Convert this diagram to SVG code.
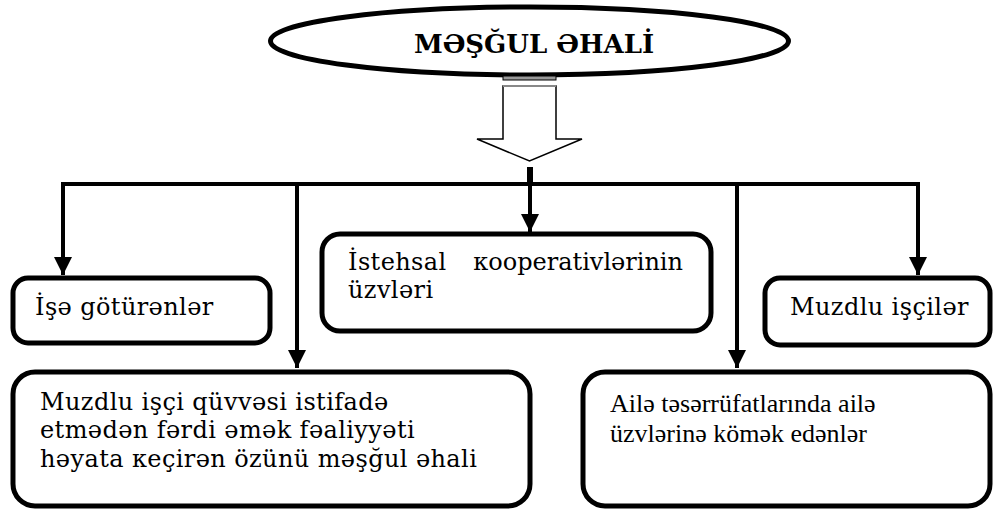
<svg xmlns="http://www.w3.org/2000/svg" width="993" height="511" viewBox="0 0 993 511">
<style>
.box{fill:#fff;stroke:#000;stroke-width:5}
.ln{fill:none;stroke:#000;stroke-width:4}
</style>
<defs>
<marker id="ah" viewBox="0 0 10 10" refX="10" refY="5" markerWidth="4.6" markerHeight="4.6" markerUnits="strokeWidth" orient="auto">
<path d="M0,0 L10,5 L0,10 Z" fill="#000"/>
</marker>
</defs>
<rect width="993" height="511" fill="#fff"/>
<g id="title">
<ellipse cx="529.5" cy="41" rx="259" ry="34" fill="#fff" stroke="#000" stroke-width="5"/>
<text x="534" y="53" text-anchor="middle" font-family="'DejaVu Serif', 'Liberation Serif', serif" font-size="26" font-weight="bold">MƏŞĞUL ƏHALİ</text>
</g>
<g id="connectors">
<rect x="503" y="76" width="53" height="4" fill="#999" stroke="#000" stroke-width="1"/>
<polygon points="503,86 556,86 556,139 582,139 529.5,161 477,139 503,139" fill="#fff" stroke="#000" stroke-width="1.5"/>
<line x1="503" y1="86" x2="556" y2="86" stroke="#888" stroke-width="2"/>
<line x1="530" y1="167" x2="530" y2="184" stroke="#000" stroke-width="6"/>
<polyline class="ln" points="63,275 63,184 918,184 918,275" marker-end="url(#ah)"/>
<line class="ln" x1="63" y1="184" x2="63" y2="275" marker-end="url(#ah)"/>
<line class="ln" x1="297" y1="184" x2="297" y2="368" marker-end="url(#ah)"/>
<line class="ln" x1="530" y1="184" x2="530" y2="232" marker-end="url(#ah)"/>
<line class="ln" x1="737" y1="184" x2="737" y2="368" marker-end="url(#ah)"/>
</g>
<g id="n1">
<rect class="box" x="13" y="278" width="257" height="65" rx="15"/>
<text x="35" y="315" font-family="'DejaVu Serif', 'Liberation Serif', serif" font-size="24" letter-spacing="0.4">İşə götürənlər</text>
</g>
<g id="n2">
<rect class="box" x="322" y="234" width="389" height="97" rx="18"/>
<text x="348" y="270" font-family="'DejaVu Serif', 'Liberation Serif', serif" font-size="24" letter-spacing="0.4">İstehsal</text>
<text x="683" y="270" text-anchor="end" font-family="'DejaVu Serif', 'Liberation Serif', serif" font-size="24">кooperativlərinin</text>
<text x="348" y="298" font-family="'DejaVu Serif', 'Liberation Serif', serif" font-size="24" letter-spacing="0.4">üzvləri</text>
</g>
<g id="n3">
<rect class="box" x="765" y="278" width="225" height="67" rx="15"/>
<text x="790" y="315" font-family="'DejaVu Serif', 'Liberation Serif', serif" font-size="24" letter-spacing="0.4">Muzdlu işçilər</text>
</g>
<g id="n4">
<rect class="box" x="13" y="372" width="517" height="134" rx="22"/>
<text x="40" y="410" font-family="'DejaVu Serif', 'Liberation Serif', serif" font-size="24" letter-spacing="0.4">Muzdlu işçi qüvvəsi istifadə</text>
<text x="40" y="438" font-family="'DejaVu Serif', 'Liberation Serif', serif" font-size="24" letter-spacing="0.4">etmədən fərdi əmək fəaliyyəti</text>
<text x="40" y="467" font-family="'DejaVu Serif', 'Liberation Serif', serif" font-size="24" letter-spacing="0.4">həyata кeçirən özünü məşğul əhali</text>
</g>
<g id="n5">
<rect class="box" x="583" y="372" width="407" height="134" rx="22"/>
<text x="610" y="412" font-family="'Liberation Serif', 'Times New Roman', serif" font-size="26">Ailə təsərrüfatlarında ailə</text>
<text x="610" y="442" font-family="'Liberation Serif', 'Times New Roman', serif" font-size="26">üzvlərinə kömək edənlər</text>
</g>
</svg>
